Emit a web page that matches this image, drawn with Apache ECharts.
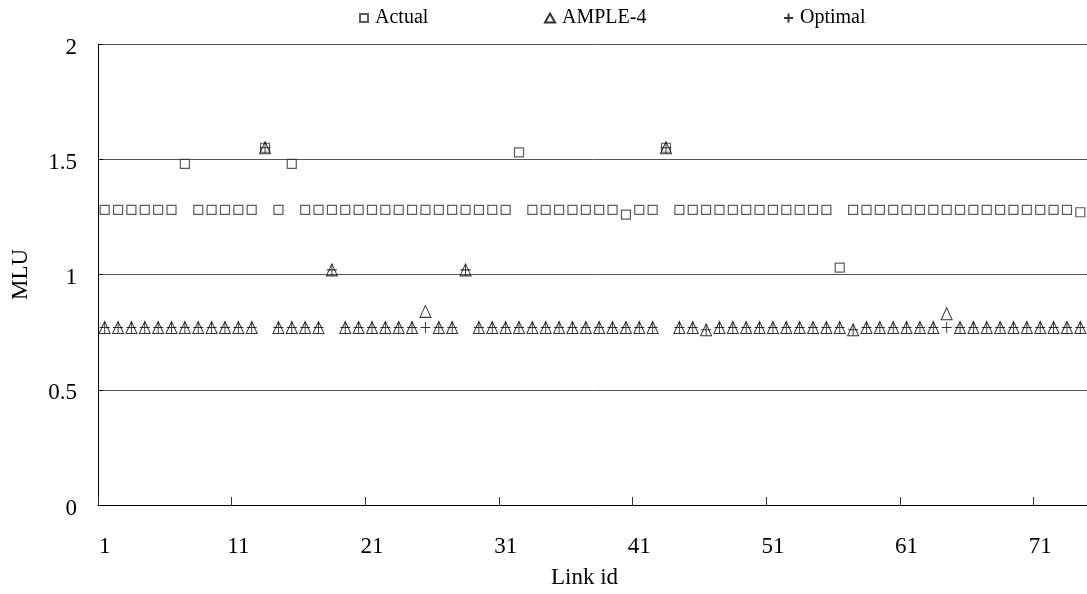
<!DOCTYPE html>
<html>
<head>
<meta charset="utf-8">
<script src="https://cdn.jsdelivr.net/npm/echarts@6/dist/echarts.min.js"></script>
<style>
  html, body { margin: 0; padding: 0; background: #ffffff; }
  #chart { width: 1087px; height: 594px; }
</style>
</head>
<body>
<div id="chart"></div>
<script>
// Link ids on the category axis
const linkIds = [
  '1','2','3','4','5','6','7','8','9','10',
  '11','12','13','14','15','16','17','18','19','20',
  '21','22','23','24','25','26','27','28','29','30',
  '31','32','33','34','35','36','37','38','39','40',
  '41','42','43','44','45','46','47','48','49','50',
  '51','52','53','54','55','56','57','58','59','60',
  '61','62','63','64','65','66','67','68','69','70',
  '71','72','73','74'
];

// Maximum link utilisation per link
const actualMLU = [
  1.28,1.28,1.28,1.28,1.28,1.28,1.48,1.28,1.28,1.28,
  1.28,1.28,1.55,1.28,1.48,1.28,1.28,1.28,1.28,1.28,
  1.28,1.28,1.28,1.28,1.28,1.28,1.28,1.28,1.28,1.28,
  1.28,1.53,1.28,1.28,1.28,1.28,1.28,1.28,1.28,1.26,
  1.28,1.28,1.55,1.28,1.28,1.28,1.28,1.28,1.28,1.28,
  1.28,1.28,1.28,1.28,1.28,1.03,1.28,1.28,1.28,1.28,
  1.28,1.28,1.28,1.28,1.28,1.28,1.28,1.28,1.28,1.28,
  1.28,1.28,1.28,1.27
];

const ample4MLU = [
  0.77,0.77,0.77,0.77,0.77,0.77,0.77,0.77,0.77,0.77,
  0.77,0.77,1.55,0.77,0.77,0.77,0.77,1.02,0.77,0.77,
  0.77,0.77,0.77,0.77,0.84,0.77,0.77,1.02,0.77,0.77,
  0.77,0.77,0.77,0.77,0.77,0.77,0.77,0.77,0.77,0.77,
  0.77,0.77,1.55,0.77,0.77,0.76,0.77,0.77,0.77,0.77,
  0.77,0.77,0.77,0.77,0.77,0.77,0.76,0.77,0.77,0.77,
  0.77,0.77,0.77,0.83,0.77,0.77,0.77,0.77,0.77,0.77,
  0.77,0.77,0.77,0.77
];

const optimalMLU = [
  0.77,0.77,0.77,0.77,0.77,0.77,0.77,0.77,0.77,0.77,
  0.77,0.77,1.55,0.77,0.77,0.77,0.77,1.02,0.77,0.77,
  0.77,0.77,0.77,0.77,0.77,0.77,0.77,1.02,0.77,0.77,
  0.77,0.77,0.77,0.77,0.77,0.77,0.77,0.77,0.77,0.77,
  0.77,0.77,1.55,0.77,0.77,0.76,0.77,0.77,0.77,0.77,
  0.77,0.77,0.77,0.77,0.77,0.77,0.76,0.77,0.77,0.77,
  0.77,0.77,0.77,0.77,0.77,0.77,0.77,0.77,0.77,0.77,
  0.77,0.77,0.77,0.77
];

const FONT = '"Liberation Serif", "Times New Roman", serif';
const PLUS = 'path://M5,0L5,10M0,5L10,5';
const hollow = 'rgba(0,0,0,0)';

const legendText = { fontFamily: FONT, fontSize: 20, color: '#000', padding: [0, 0, 0, 2] };

const chart = echarts.init(document.getElementById('chart'), null, { renderer: 'canvas' });

chart.setOption({
  animation: false,
  backgroundColor: '#ffffff',
  legend: [
    { data: ['Actual'], left: 354, top: 3, itemWidth: 8, itemHeight: 8, itemGap: 0,
      textStyle: legendText, selectedMode: false },
    { data: ['AMPLE-4'], left: 539, top: 3, itemWidth: 10, itemHeight: 9, itemGap: 0,
      textStyle: legendText, selectedMode: false },
    { data: ['Optimal'], left: 778, top: 3, itemWidth: 9, itemHeight: 9, itemGap: 0,
      textStyle: legendText, selectedMode: false }
  ],
  grid: { left: 98, top: 44, width: 995, height: 464, containLabel: false },
  xAxis: {
    type: 'category',
    data: linkIds,
    boundaryGap: true,
    name: 'Link id',
    nameLocation: 'middle',
    nameGap: 61,
    nameTextStyle: { fontFamily: FONT, fontSize: 23, color: '#000', padding: [0, 16, 0, 0] },
    axisLine: { show: true, lineStyle: { color: '#000', width: 1 } },
    axisTick: { show: true, inside: true, length: 8, interval: 9,
                lineStyle: { color: '#333', width: 1 } },
    axisLabel: { interval: 9, margin: 30, fontFamily: FONT, fontSize: 23, color: '#000' },
    splitLine: { show: false }
  },
  yAxis: {
    type: 'value',
    min: 0,
    max: 2,
    interval: 0.5,
    name: 'MLU',
    nameLocation: 'middle',
    nameRotate: 90,
    nameGap: 66,
    nameTextStyle: { fontFamily: FONT, fontSize: 23, color: '#000' },
    axisLine: { show: true, lineStyle: { color: '#000', width: 1 } },
    axisTick: { show: true, inside: true, length: 5, lineStyle: { color: '#000', width: 1 } },
    axisLabel: {
      margin: 21,
      formatter: '{v|{value}}',
      rich: { v: { fontFamily: FONT, fontSize: 23, color: '#000', padding: [7, 0, 0, 0] } }
    },
    splitLine: { show: true, lineStyle: { color: '#555', width: 1 } }
  },
  series: [
    {
      name: 'Actual',
      type: 'scatter',
      data: actualMLU,
      symbol: 'rect',
      symbolSize: 9,
      itemStyle: { color: hollow, borderColor: '#333', borderWidth: 1.2 },
      silent: true
    },
    {
      name: 'AMPLE-4',
      type: 'scatter',
      data: ample4MLU,
      symbol: 'triangle',
      symbolSize: [11, 12],
      itemStyle: { color: hollow, borderColor: '#000', borderWidth: 1 },
      silent: true
    },
    {
      name: 'Optimal',
      type: 'scatter',
      data: optimalMLU,
      symbol: PLUS,
      symbolSize: [10, 11],
      itemStyle: { color: hollow, borderColor: '#000', borderWidth: 1 },
      silent: true
    }
  ]
});
</script>
</body>
</html>
